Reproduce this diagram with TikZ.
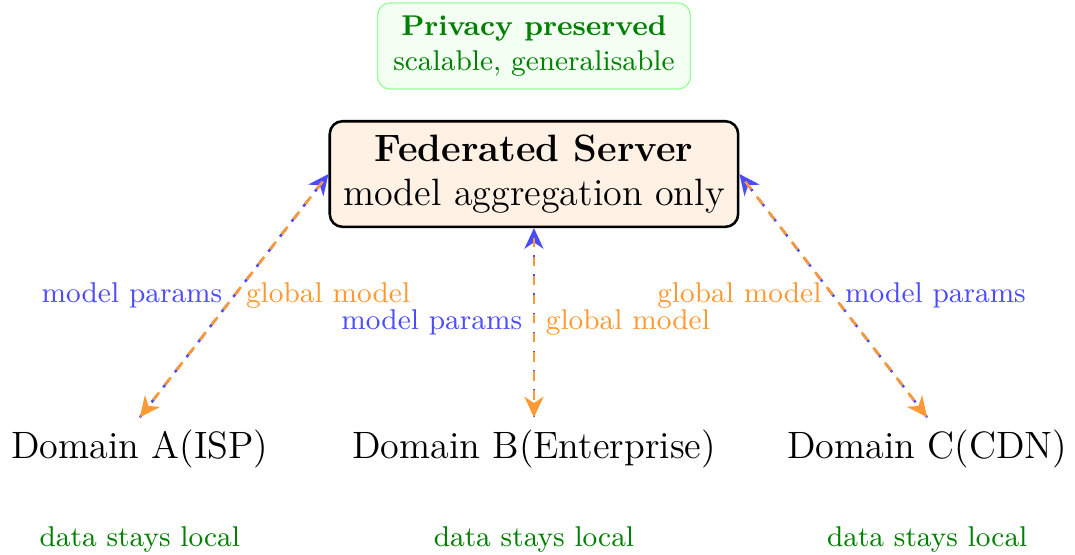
\documentclass[tikz,border=0pt]{standalone}
\usetikzlibrary{arrows.meta,positioning}

\begin{document}
\begin{tikzpicture}[>={Stealth[length=6.5pt,width=6pt,inset=2pt]},thick,node distance=1cm,
    server node/.style={draw,thick,rounded corners=4pt,fill=orange!10,align=center,font=\large,inner sep=4.2pt},
    domain node/.style={font=\large,inner sep=3.5pt},
    note node/.style={font=\small,text=green!50!black},
    up flow/.style={->,dashed,blue!70},
    down flow/.style={->,dashed,dash phase=3pt,orange!80}]
\useasboundingbox (-5.907,-4.204) rectangle (5.985,1.925);
%%%%%
\node[server node] (server) at (0,0) {\textbf{Federated Server}\\model aggregation only};
\node[draw=green!40,fill=green!5,thin,rounded corners=4pt,align=center,font=\small,text=green!50!black,
      inner xsep=5pt,inner ysep=4pt] (privacy) at (0,1.416) {\textbf{Privacy preserved}\\scalable, generalisable};
%%%%%
\node[domain node] (a) at (-4.36,-3.04) {Domain A(ISP)};
\node[domain node] (b) at (0,-3.04) {Domain B(Enterprise)};
\node[domain node] (c) at (4.35,-3.04) {Domain C(CDN)};
%%%%%
\node[note node] (la) [below=0.38cm of a] {data stays local};
\node[note node] (lb) [below=0.38cm of b] {data stays local};
\node[note node] (lc) [below=0.38cm of c] {data stays local};
%%%%%%%
\path[every node/.style={font=\small}]
  (a.north) %%%%%%%%%%%%%
      edge [up flow] node[midway,left,text=blue!70] {model params} (server.west)
  (server.west)
      edge [down flow] node[midway,right,text=orange!80] {global model} (a.north)
  (b.north) %%%%%%%%%%%%%
      edge [up flow] node[midway,left,text=blue!70] {model params} (server.south)
  (server.south)
      edge [down flow] node[midway,right,text=orange!80] {global model} (b.north)
  (c.north) %%%%%%%%%%%%%
      edge [up flow] node[midway,right,text=blue!70] {model params} (server.east)
  (server.east)
      edge [down flow] node[midway,left,text=orange!80] {global model} (c.north);
\end{tikzpicture}
\end{document}
